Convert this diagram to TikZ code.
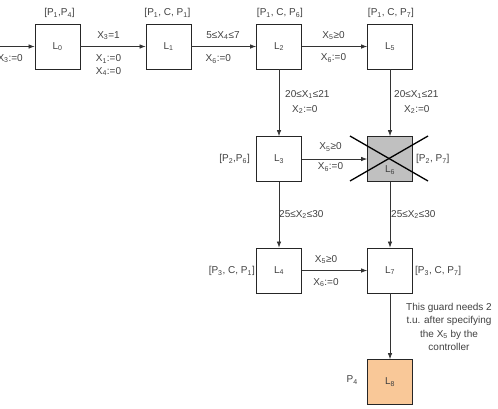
\documentclass[tikz,border=0pt]{standalone}
\usepackage{fontspec}
\setmainfont{Liberation Sans}
\usetikzlibrary{arrows.meta}
\newcommand{\sbs}[1]{\textsubscript{#1}}
\definecolor{peach}{HTML}{F9C898}
\definecolor{boxgray}{HTML}{C0C0C0}
\definecolor{txt}{HTML}{404040}
\begin{document}
\begin{tikzpicture}[x=1pt,y=-1pt,
  loc/.style={draw=black!85, line width=0.8pt, minimum size=45pt, inner sep=0pt, fill=white, font=\fontsize{10}{11}\selectfont, text=txt},
  lbl/.style={font=\fontsize{10}{11}\selectfont, text=txt, inner sep=0pt},
  edge/.style={draw=black!80, line width=0.7pt, -{Latex[length=6pt,width=4.5pt]}}]
\useasboundingbox (0,0) rectangle (498,408);

% locations
\node[loc] (L0) at (57.5,46.5) {L\sbs{0}};
\node[loc] (L1) at (168.5,46.5) {L\sbs{1}};
\node[loc] (L2) at (279,46.5) {L\sbs{2}};
\node[loc] (L5) at (390,46.5) {L\sbs{5}};
\node[loc] (L3) at (279,159) {L\sbs{3}};
\node[loc,fill=boxgray] (L6) at (390,159) {};
\node[lbl] (L6t) at (390,170) {L\sbs{6}};
\node[loc] (L4) at (279,270.5) {L\sbs{4}};
\node[loc] (L7) at (390,270.5) {L\sbs{7}};
\node[loc,fill=peach] (L8) at (390,382) {L\sbs{8}};

% cross over L6
\coordinate (c1) at (350,136);
\coordinate (c2) at (428,181);
\coordinate (c3) at (350,181);
\coordinate (c4) at (428,136);
\draw[line width=1.3pt] (c1) -- (c2);
\draw[line width=1.3pt] (c3) -- (c4);

% location labels
\node[lbl] (lL0) at (59.5,13) {[P\sbs{1},P\sbs{4}]};
\node[lbl] (lL1) at (167.5,13) {[P\sbs{1}, C, P\sbs{1}]};
\node[lbl] (lL2) at (280,13) {[P\sbs{1}, C, P\sbs{6}]};
\node[lbl] (lL5) at (391,13) {[P\sbs{1}, C, P\sbs{7}]};
\node[lbl,anchor=east] (lL3) at (250,159) {[P\sbs{2},P\sbs{6}]};
\node[lbl,anchor=west] (lL6) at (416,159) {[P\sbs{2}, P\sbs{7}]};
\node[lbl,anchor=east] (lL4) at (255,271) {[P\sbs{3}, C, P\sbs{1}]};
\node[lbl,anchor=west] (lL7) at (415,271) {[P\sbs{3}, C, P\sbs{7}]};
\node[lbl,anchor=east] (lL8) at (358,380) {P\sbs{4}};

% edges
\coordinate (start) at (0,46.5);
\draw[edge] (start) -- (L0);
\draw[edge] (L0) -- (L1);
\draw[edge] (L1) -- (L2);
\draw[edge] (L2) -- (L5);
\draw[edge] (L2) -- (L3);
\draw[edge] (L5) -- (L6);
\draw[edge] (L3) -- (L6);
\draw[edge] (L3) -- (L4);
\draw[edge] (L6) -- (L7);
\draw[edge] (L4) -- (L7);
\draw[edge] (L7) -- (L8);

% edge labels
\node[lbl,anchor=east] (e0) at (23,58.5) {X\sbs{3}:=0};
\node[lbl] (e1a) at (108.5,35.5) {X\sbs{3}=1};
\node[lbl] (e1b) at (108.5,59) {X\sbs{1}:=0};
\node[lbl] (e1c) at (108.5,71.5) {X\sbs{4}:=0};
\node[lbl] (e2a) at (223,35.5) {5≤X\sbs{4}≤7};
\node[lbl,anchor=west] (e2b) at (205.5,59) {X\sbs{6}:=0};
\node[lbl] (e3a) at (333.5,35.5) {X\sbs{5}≥0};
\node[lbl] (e3b) at (333.5,58) {X\sbs{6}:=0};
\node[lbl,anchor=west] (e4a) at (285,94.5) {20≤X\sbs{1}≤21};
\node[lbl,anchor=west] (e4b) at (292,109.5) {X\sbs{2}:=0};
\node[lbl,anchor=west] (e5a) at (394,94.5) {20≤X\sbs{1}≤21};
\node[lbl,anchor=west] (e5b) at (404,109.5) {X\sbs{2}:=0};
\node[lbl] (e6a) at (330.5,147) {X\sbs{5}≥0};
\node[lbl] (e6b) at (330.5,167) {X\sbs{6}:=0};
\node[lbl,anchor=west] (e7) at (279,214.5) {25≤X\sbs{2}≤30};
\node[lbl,anchor=west] (e8) at (391,214.5) {25≤X\sbs{2}≤30};
\node[lbl] (e9a) at (326,259.5) {X\sbs{5}≥0};
\node[lbl] (e9b) at (326,282.5) {X\sbs{6}:=0};
\node[lbl,align=center,font=\fontsize{10}{13.3}\selectfont] (note) at (449,327) {This guard needs 2\\t.u. after specifying\\the X\sbs{5} by the\\controller};
\end{tikzpicture}
\end{document}
